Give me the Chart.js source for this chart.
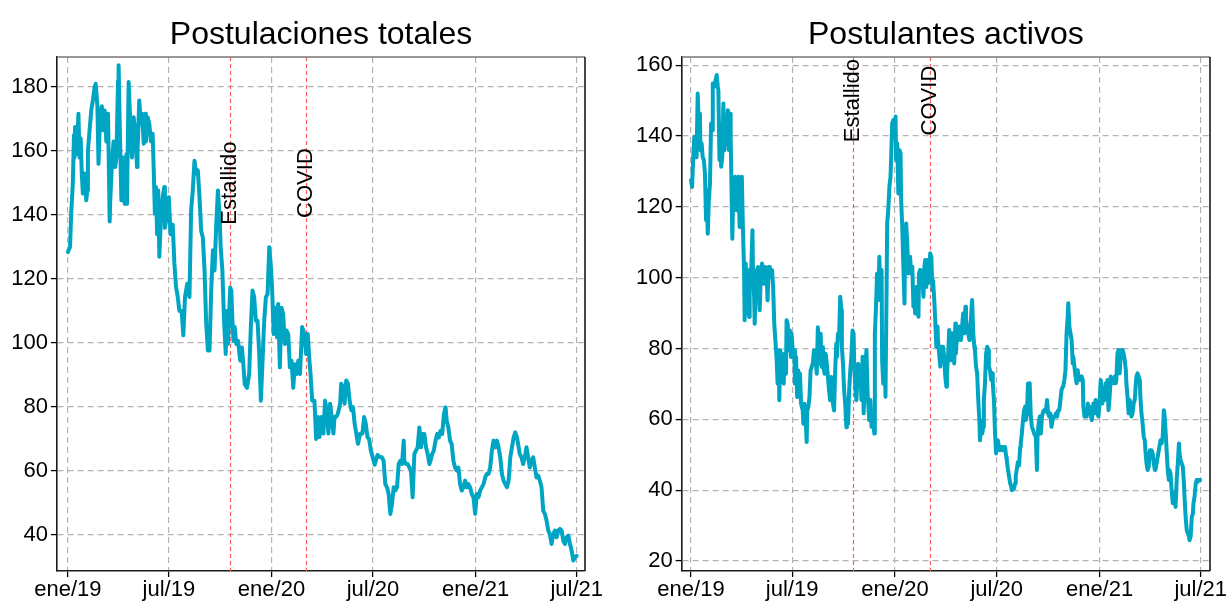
<!DOCTYPE html>
<html><head><meta charset="utf-8">
<script src="https://cdn.jsdelivr.net/npm/chart.js@4.4.1/dist/chart.umd.min.js"></script>
<style>
html,body{margin:0;padding:0;background:#fff;overflow:hidden;width:1227px;height:601px}
canvas{position:absolute;top:0}
#c1{left:0}
#c2{left:613px}
</style></head>
<body>
<canvas id="c1" width="613" height="601"></canvas>
<canvas id="c2" width="614" height="601"></canvas>
<script>
const titulos = ['Postulaciones totales', 'Postulantes activos'];
const fechaInicio = '2019-01-01';
const fechasTicks = ['2019-01-01','2019-07-01','2020-01-01','2020-07-01','2021-01-01','2021-07-01'];
const etiquetasTicks = ['ene/19','jul/19','ene/20','jul/20','ene/21','jul/21'];
const eventos = ['Estallido', 'COVID'];
const fechasEventos = ['2019-10-18', '2020-03-03'];
const ticksTotales = [40, 60, 80, 100, 120, 140, 160, 180];
const ticksActivos = [20, 40, 60, 80, 100, 120, 140, 160];

// días desde 2019-01-01
const diasTotales = [0,4,6,9,11,12,13,15,17,19,21,23,25,27,30,33,35,36,39,42,45,48,50,53,55,58,61,63,66,69,72,75,76,79,82,85,87,90,91,93,96,99,102,105,106,109,112,115,118,121,124,125,128,131,133,136,139,140,143,146,149,152,154,156,158,160,162,164,167,170,173,174,178,181,184,188,191,194,197,200,204,207,210,214,218,221,224,227,230,233,236,239,242,245,248,251,254,257,260,263,266,269,272,
274,277,280,283,285,287,291,293,295,297,299,302,305,309,312,315,317,321,325,328,331,334,337,340,343,346,349,352,355,358,361,364,366,369,372,375,377,380,383,386,389,392,395,398,401,404,407,410,413,416,420,424,427,430,433,435,438,
442,445,448,451,454,458,461,464,467,470,473,476,478,481,484,488,490,493,496,499,502,505,508,511,514,517,520,524,528,531,534,537,540,543,550,555,
560,563,566,569,572,575,578,581,584,587,590,593,596,599,602,603,606,609,612,615,618,621,624,627,630,633,636,639,642,645,648,650,653,656,659,662,665,668,671,674,677,679,682,685,688,691,694,697,700,703,706,709,712,715,718,721,724,727,730,733,736,739,742,745,748,751,754,757,760,763,766,769,772,775,778,781,784,787,790,793,796,799,802,805,808,810,813,816,819,822,825,828,831,834,837,840,843,846,849,852,855,858,861,864,867,870,873,876,879,882,885,888,891,894,897,900,903,906,909,912];
const postulacionesTotales = [128.4,130,140.4,150,165,158,167.5,159,163,171.7,158,164,153,146.7,153,144.6,147.7,160,166.5,172.7,176,180,181,174,156,171.7,174,166.5,172.7,163,171.7,138,144.6,156,163,155,158,182,186.8,168.5,144.6,158,143.5,159,143.5,181.6,168.5,158,170.6,165.4,155,160,175.8,168.5,171.7,162.3,171.7,163,170.6,168.5,163,165.4,154,140.4,148.8,134,147.7,127,139.4,145.6,148.8,136,140.4,145.6,134,137,124.8,117.5,114.4,110,110,102.4,114.4,118.5,114.4,141.5,147.7,157,153,154,145.6,135,133,122.7,106,97.7,97.7,116.5,129,122.7,137,147.7,139.4,
129.9,122.6,107,96.6,110,99.7,117.4,116.4,107,100.7,105,99.7,100.7,94.5,98.6,92.4,87.2,86,90.3,105,116.4,114.3,107,107,96.6,82,94.5,107,114.3,115.3,129.9,123.6,117.4,102.8,111,101.8,112.2,92.4,111,109,99.7,103.9,102.8,92.4,94.5,86,93.4,90.3,94.5,90.3,105,102.8,96.6,102.8,94.5,90.3,82,
82,70,76.9,70.6,76.9,71.7,82,79,71.7,81,76.9,71.7,76.9,76.9,77.9,81,87.3,86.3,81,88.3,87.3,82,79,80,74.8,71.7,68.5,71.7,71.7,76.9,74.8,70.6,70,66.5,62,65,
64.3,64.3,63.2,55.9,54.9,52.8,46.6,49.7,54.9,53.9,54.9,62.2,63.2,62.2,69.5,63.2,62.2,62.2,61.1,60.1,51.8,65.3,66.4,67.4,73.6,67.4,71.6,71.6,67.4,65.3,62.2,63.2,65.3,66.4,69.5,71.6,70.5,72.6,71.6,77.8,79.9,75.7,73.6,69.5,68.4,63.2,61.1,60.1,61.1,55.9,53.9,54.9,57,54.9,55.9,54.9,52.8,51.8,46.6,52.8,51.8,53.9,54.9,55.9,58,59.1,59.1,61.1,66.4,69.5,67.4,69.5,67.4,64.3,59.1,57,55.9,54.9,57,64.3,67.4,70.5,72.1,70.5,67.4,65.3,64.3,62.2,64.3,67.4,64.3,61.1,63.2,64.3,61.1,58,58.6,57,54.9,47.6,46.6,44.5,41.4,40.3,37.2,40.3,41.4,39.3,41.4,41.9,41.4,38.2,37.2,39.3,39.8,37.2,35.1,32,33,33.5];

const diasActivos = [0,2,4,6,8,10,12,14,16,17,19,21,23,25,27,28,30,32,34,36,38,39,42,44,46,48,49,51,52,54,56,58,60,63,64,66,68,70,71,74,76,77,79,82,83,85,87,89,91,93,95,96,98,100,102,104,105,108,110,111,113,114,116,118,120,122,123,125,127,129,131,133,135,137,139,141,143,145,147,149,151,153,155,157,158,160,162,164,166,167,170,171,173,175,177,179,180,183,185,186,188,190,192,194,195,197,200,201,203,205,207,208,210,212,214,216,218,220,222,223,225,227,229,230,232,234,236,238,239,241,243,245,247,249,251,253,254,256,258,260,261,263,265,267,269,270,272,274,276,278,279,281,283,285,287,289,291,292,294,296,299,302,
303,305,307,309,311,314,316,319,321,323,326,328,329,331,333,335,337,339,341,342,344,346,348,350,351,353,355,357,358,360,362,364,366,367,369,371,373,375,376,378,380,382,383,385,387,389,391,392,394,396,398,400,401,403,405,407,408,410,412,414,416,417,419,421,423,424,426,428,430,432,433,435,437,439,441,442,444,446,448,449,451,453,455,457,458,460,462,464,466,467,469,471,473,474,476,478,480,482,483,485,487,489,491,492,494,496,498,499,501,503,505,507,508,510,512,514,516,517,519,521,523,524,526,528,530,532,533,535,537,539,540,542,544,546,548,549,551,553,555,557,558,560,562,564,565,567,569,571,573,574,576,578,580,581,583,585,587,589,590,592,594,596,598,599,601,603,605,
606,608,610,612,614,617,619,620,622,624,626,628,630,632,635,637,639,641,643,645,647,649,651,653,655,657,659,661,663,665,666,668,670,672,674,675,677,679,681,683,684,686,688,690,692,693,695,697,699,701,702,704,706,708,710,711,713,715,717,718,720,722,724,726,727,729,731,733,735,736,738,740,742,744,745,747,749,751,753,754,756,758,760,761,763,765,767,769,770,772,774,776,778,779,781,783,785,787,788,790,792,794,796,797,799,801,803,804,806,808,810,812,813,815,817,819,821,822,824,826,828,830,831,833,835,837,839,840,842,844,846,847,849,851,853,855,856,858,860,862,864,865,867,869,871,873,874,876,878,880,882,883,885,887,889,891,892,894,896,898,899,901,903,905,907,908,911];
const postulantesActivos = [127.5,125.6,134,139.8,137.9,134,152,143.5,146.3,136,137.9,134,133.2,129.4,116.2,124.7,112.4,121.9,126.6,143.5,141.6,154.8,153.9,155.8,157.2,153.9,152.9,133.2,143.5,131.3,134,149.2,136,145.4,137.9,147.3,136,146.3,139.8,111,126.6,119,128.5,124.7,119,128.5,114.3,124.7,128.5,113.4,102.1,88,104,89.9,102.1,88.9,101.1,103,113.4,101.1,94.6,87,96.4,102.1,103,96.4,90.8,101.1,104,102.1,98.3,103,102.1,93.6,103,103,100.2,102.1,97.4,87,82.3,77.6,70.1,79.5,65.4,79.5,73.8,77.6,70.1,78.5,72.9,88,87,79.5,85.1,77.6,84.2,77.6,79.5,70.1,77.6,66.3,73.8,70.1,72.9,64.4,62.5,58.8,64.4,60.7,53.6,62.5,63.5,66.3,73.8,74.8,75.7,79.5,76.7,77.6,72.9,86,75.7,79.5,84.2,74.8,80.4,73.8,72.9,78.5,75.7,72,68.2,65.4,72,68.2,64.4,62.5,73.8,81.4,77.6,84.2,83.3,94.6,90.8,80.4,75.7,68.2,64.4,57.8,60.7,58.8,68.2,73.8,77.6,85.1,84.2,75.7,69.1,65.4,75.7,73.8,
74.9,65.5,77.7,61.7,73,79.6,67.3,59.8,65.5,57.9,59.8,56,84.3,91.8,101.2,93.7,105.9,93.7,102.2,76.7,70.1,80.5,66.4,97.4,115.3,119.1,125.7,128.5,133.2,143.6,144.5,139.8,145.5,133.2,137.9,123.8,136,135.1,121.9,114.4,103.1,92.7,106.9,115.3,109.7,101.2,105,105.9,101.2,103.1,91.8,96.5,89.9,97.4,93.7,89,101.2,102.2,97.4,99.3,94.6,102.2,105,97.4,105,98.4,101.2,106.9,105.9,96.5,99.3,94.6,88,80.5,86.2,82.4,78.6,74.9,80.5,76.7,80.5,77.7,72,69.2,73,77.7,85.2,80.5,76.7,84.3,79.6,75.8,87.1,78.6,84.3,82.4,86.2,85.2,82.4,86.2,89.9,84.3,91.8,88,85.2,84.3,82.4,84.3,89,93.7,84.3,80.5,79.6,74.9,73,65.5,59.8,54.1,57.9,56,57.9,65.5,70.1,78.6,80.5,79.6,74.9,73.9,71.1,73,70.1,65.5,56,50.4,53.2,54.1,52.2,51.3,52.2,51.3,52.2,51.3,52.2,49.4,48.5,46,44,42,41,40,41,40.5,42,44,46,48,47,52.2,53.2,56,59.8,62.6,63.6,59.8,61.7,70.1,65.5,
70.2,60.8,57.9,57,56,55.1,45.7,55.1,58.9,60.8,56,60.8,62.2,62.6,62.2,65.5,61.7,60.8,61.7,57.9,59.8,60.8,60.8,61.7,60.8,62.6,62.6,65.5,68.3,69.2,69.2,71.1,73.9,84.3,89,92.8,86.2,84.3,82.4,75.8,77.7,74.9,72.1,70.2,73.9,72.1,71.1,72.1,72.1,71.1,63.6,60.8,62.6,60.8,64.5,62.6,63.6,61.7,59.8,60.8,64.5,61.7,65.5,63.6,61.7,60.8,64.5,71.1,68.3,64.5,66.4,65.5,70.2,68.3,71.1,62.6,66.4,72.1,71.1,70.2,70.2,72.1,70.2,71.1,78.6,79.6,73,78.6,79.6,79.6,78.6,76.8,73.9,70.2,66.4,61.7,65.5,62.6,60.8,61.7,64.5,65.5,70.2,72.1,73,72.1,71.1,66.4,61.7,58.9,55.1,54.1,51.3,47.6,45.7,46.6,51.3,49.4,51.3,50.4,47.6,45.7,45.7,47.6,49.4,51.3,53.2,54.1,53.2,55.1,62.6,61.7,57,51.3,45.7,42.9,45.7,44.7,40,36.3,36.3,39.1,35.3,42.9,47.6,53.2,50.4,48.5,47.6,46.6,41.9,38.2,32.5,28.7,27.8,26.9,25.9,26.9,32.5,33.4,36.3,38.2,41.9,42.9,42.4,42.9,42.9];

const FUENTE = "'Liberation Sans', Arial, Helvetica, sans-serif";
const COLOR_LINEA = '#00a5c3';

function dias(f) {
  return Math.round((Date.parse(f + 'T00:00:00Z') - Date.parse(fechaInicio + 'T00:00:00Z')) / 86400000);
}
const diasTicks = fechasTicks.map(dias);
const diasEventos = fechasEventos.map(dias);

const anotaciones = {
  id: 'anotaciones',
  beforeDatasetsDraw(chart) {
    const {ctx, chartArea: a, scales: {x}} = chart;
    ctx.save();
    ctx.strokeStyle = '#ff5c5c';
    ctx.lineWidth = 1.2;
    ctx.setLineDash([4, 3]);
    diasEventos.forEach(d => {
      const px = Math.round(x.getPixelForValue(d)) + 0.5;
      ctx.beginPath(); ctx.moveTo(px, a.top); ctx.lineTo(px, a.bottom); ctx.stroke();
    });
    ctx.restore();
  },
  afterDatasetsDraw(chart, args, opts) {
    const {ctx, chartArea: a, scales: {x, y}} = chart;
    ctx.save();
    ctx.fillStyle = '#000';
    ctx.font = '22px ' + FUENTE;
    ctx.textAlign = 'center';
    ctx.textBaseline = 'middle';
    diasEventos.forEach((d, i) => {
      const px = x.getPixelForValue(d);
      const py = y.getPixelForValue(150);
      ctx.save();
      ctx.translate(px, py);
      ctx.rotate(-Math.PI / 2);
      ctx.fillText(eventos[i], 0, 0);
      ctx.restore();
    });
    ctx.lineWidth = 1.6;
    ctx.strokeStyle = '#777';
    ctx.beginPath(); ctx.moveTo(a.left, a.top); ctx.lineTo(a.right, a.top); ctx.stroke();
    ctx.strokeStyle = '#1a1a1a';
    ctx.beginPath(); ctx.moveTo(a.right, a.top); ctx.lineTo(a.right, a.bottom); ctx.stroke();
    ctx.font = '32px ' + FUENTE;
    ctx.textAlign = 'center';
    ctx.textBaseline = 'alphabetic';
    ctx.fillText(opts.titulo, (a.left + a.right) / 2, 44);
    ctx.restore();
  }
};

function crear(id, titulo, xs, ys, yTicks, yMin, yMax, xMin, xMax, anchoEjeY, padDer) {
  const puntos = xs.map((d, i) => ({x: d, y: ys[i]}));
  const grid = {color: '#b3b3b3', lineWidth: 1.2, tickLength: 6, tickColor: '#000', tickWidth: 1.3, tickBorderDash: []};
  const border = {display: true, color: '#1a1a1a', width: 1.6, dash: [6, 4]};
  new Chart(document.getElementById(id), {
    type: 'line',
    data: {datasets: [{data: puntos, borderColor: COLOR_LINEA, borderWidth: 4, pointRadius: 0,
      tension: 0, borderJoinStyle: 'round', borderCapStyle: 'round', fill: false}]},
    options: {
      responsive: false, animation: false, events: [],
      layout: {padding: {left: 0, right: padDer, top: 57, bottom: 0}},
      plugins: {legend: {display: false}, tooltip: {enabled: false}, title: {display: false},
        anotaciones: {titulo: titulo}},
      scales: {
        x: {type: 'linear', min: xMin, max: xMax, bounds: 'data',
          afterBuildTicks: s => { s.ticks = diasTicks.map(v => ({value: v})); },
          afterFit: s => { s.height = 30; s.paddingLeft = 0; s.paddingRight = 0; },
          ticks: {autoSkip: false, maxRotation: 0, minRotation: 0, padding: 0, color: '#000',
            font: {size: 22, family: FUENTE}, callback: (v, i) => etiquetasTicks[i]},
          grid: grid, border: border},
        y: {type: 'linear', min: yMin, max: yMax, bounds: 'data',
          afterBuildTicks: s => { s.ticks = yTicks.map(v => ({value: v})); },
          afterFit: s => { s.width = anchoEjeY; s.paddingTop = 0; s.paddingBottom = 0; },
          ticks: {padding: 3, color: '#000', font: {size: 22, family: FUENTE}, callback: v => String(v)},
          grid: grid, border: border}
      }
    },
    plugins: [anotaciones]
  });
}

crear('c1', titulos[0], diasTotales, postulacionesTotales, ticksTotales, 28.75, 189.4, -19.4, 926.9, 57, 28);
crear('c2', titulos[1], diasActivos, postulantesActivos, ticksActivos, 17.2, 162.3, -16.6, 928.6, 68.7, 17);
</script>
</body></html>
